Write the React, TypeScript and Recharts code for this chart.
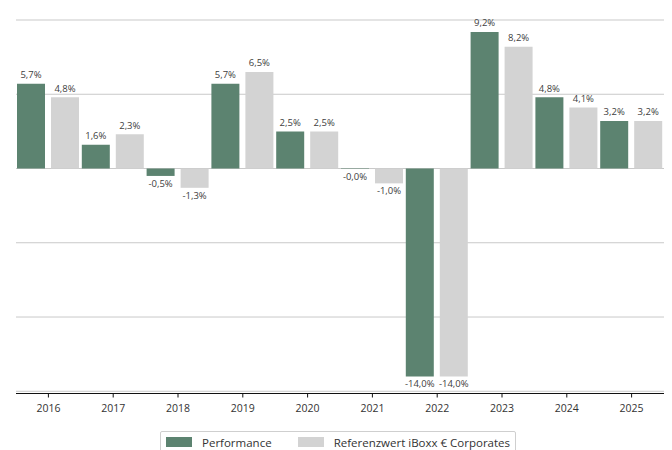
import React from 'react';
import { BarChart, Bar, XAxis, YAxis, CartesianGrid, LabelList, Legend } from 'recharts';

const years = ['2016', '2017', '2018', '2019', '2020', '2021', '2022', '2023', '2024', '2025'];
const performance = [5.7, 1.6, -0.5, 5.7, 2.5, -0.03, -14.0, 9.2, 4.8, 3.2];
const benchmark = [4.8, 2.3, -1.3, 6.5, 2.5, -1.0, -14.0, 8.2, 4.1, 3.2];
const yTicks = [-15, -10, -5, 0, 5, 10];
const seriesNames = ['Performance', 'Referenzwert iBoxx € Corporates'];

const GREEN = '#5c8370';
const GREY = '#d3d3d3';
const FONT = '"Open Sans", sans-serif';

const data = years.map((y, i) => ({ year: y, perf: performance[i], bench: benchmark[i] }));

const fmt = (v: number) => v.toFixed(1).replace('.', ',') + '%';

const renderLabel = (props: any) => {
  const { x, y, width, height, value } = props;
  const v = Number(value);
  const top = Math.min(y, y + height);
  const bottom = Math.max(y, y + height);
  const neg = v < 0;
  return (
    <text
      x={x + width / 2}
      y={neg ? bottom + 11 : top - 5.5}
      textAnchor="middle"
      fontSize={9.5}
      fill="#404040"
      fontFamily={FONT}
    >
      {fmt(v)}
    </text>
  );
};

const renderLegend = () => (
  <div
    style={{
      display: 'inline-flex',
      alignItems: 'flex-start',
      border: '1px solid #cfcfcf',
      borderRadius: 2,
      padding: '5px 5px 6px 5px',
      fontFamily: FONT,
      fontSize: 11.5,
      color: '#333',
      lineHeight: '11px',
      background: '#fff',
    }}
  >
    {[GREEN, GREY].map((c, i) => (
      <div key={i} style={{ display: 'flex', alignItems: 'flex-start', marginRight: i === 0 ? 26 : 0 }}>
        <div style={{ width: 26, height: 10, background: c, marginRight: 10 }} />
        <span style={{ whiteSpace: 'nowrap' }}>{seriesNames[i]}</span>
      </div>
    ))}
  </div>
);

export default function App() {
  return (
    <div style={{ width: 664, height: 442 }}>
      <BarChart
        width={664}
        height={442}
        data={data}
        margin={{ top: 12, right: 8, bottom: 26.5, left: 8 }}
        barCategoryGap={1}
        barGap={6}
      >
        <CartesianGrid horizontal vertical={false} stroke="#c9c9c9" />
        <YAxis hide domain={[-15.15, 10]} ticks={yTicks} />
        <XAxis
          dataKey="year"
          axisLine={{ stroke: '#111' }}
          tickLine={{ stroke: '#111' }}
          tickSize={4}
          tickMargin={7}
          tick={{ fontSize: 10.5, fill: '#333', fontFamily: FONT }}
          interval={0}
        />
        <Legend
          layout="horizontal"
          verticalAlign="middle"
          align="center"
          content={renderLegend}
          wrapperStyle={{ top: 423, left: 152, width: 'auto', height: 'auto' }}
        />
        <Bar dataKey="perf" name={seriesNames[0]} fill={GREEN} isAnimationActive={false}>
          <LabelList dataKey="perf" content={renderLabel} />
        </Bar>
        <Bar dataKey="bench" name={seriesNames[1]} fill={GREY} isAnimationActive={false}>
          <LabelList dataKey="bench" content={renderLabel} />
        </Bar>
      </BarChart>
    </div>
  );
}
